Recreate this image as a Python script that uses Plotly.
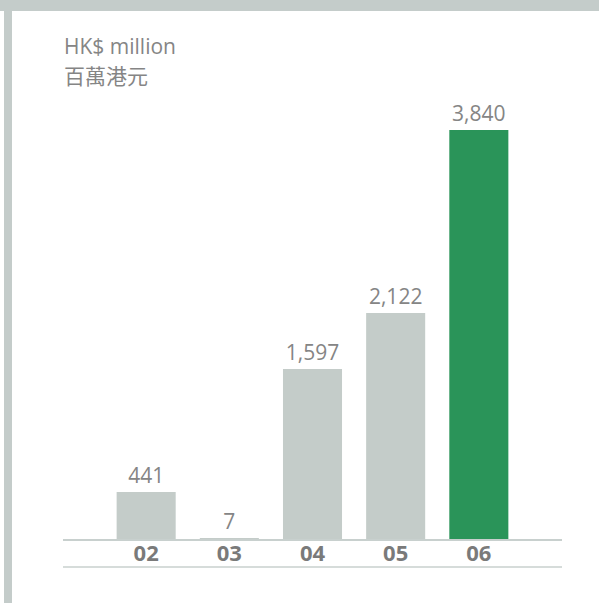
import plotly.graph_objects as go

categories = ["02", "03", "04", "05", "06"]
values = [441, 7, 1597, 2122, 3840]
labels = ["441", "7", "1,597", "2,122", "3,840"]
unit_en = "HK$ million"
unit_zh = "百萬港元"

GRAY = "#c4ccc9"
GREEN = "#2a9459"
TEXT = "#858585"
W, H = 599, 603

colors = [GRAY] * (len(values) - 1) + [GREEN]

fig = go.Figure(go.Bar(
    x=categories, y=values, marker=dict(color=colors, line=dict(width=0)),
    width=0.71, text=labels, textposition="outside", cliponaxis=False,
    textfont=dict(family="Open Sans", size=21, color=TEXT),
))

x0, x1 = 63, 562
ybase, ytop = 539, 113
fig.update_layout(
    width=W, height=H, margin=dict(l=0, r=0, t=0, b=0),
    paper_bgcolor="white", plot_bgcolor="white", showlegend=False,
    xaxis=dict(domain=[x0 / W, x1 / W], range=[-1, 5], showgrid=False,
               showline=True, linecolor="#c8d0ce", linewidth=1.5,
               tickfont=dict(family="Open Sans", size=22, color="#7a7a7a", weight="bold"),
               ticks="", zeroline=False, ticklabelstandoff=-6),
    yaxis=dict(domain=[(H - ybase) / H, (H - ytop) / H], range=[0, 4000],
               visible=False, showgrid=False, zeroline=False),
    shapes=[
        dict(type="rect", xref="paper", yref="paper", x0=0, x1=1,
             y0=(H - 11) / H, y1=1, fillcolor="#c4ccca", line=dict(width=0), layer="above"),
        dict(type="rect", xref="paper", yref="paper", x0=4 / W, x1=12 / W,
             y0=0, y1=(H - 11) / H, fillcolor="#c4ccca", line=dict(width=0)),
        dict(type="line", xref="paper", yref="paper", x0=x0 / W, x1=x1 / W,
             y0=(H - 567) / H, y1=(H - 567) / H, line=dict(color="#c8d0ce", width=1.5)),
    ],
    annotations=[
        dict(text=unit_en, xref="paper", yref="paper", x=62 / W, y=(H - 46) / H,
             xanchor="left", yanchor="middle", showarrow=False,
             font=dict(family="Open Sans", size=21, color=TEXT)),
        dict(text=unit_zh, xref="paper", yref="paper", x=62 / W, y=(H - 75) / H,
             xanchor="left", yanchor="middle", showarrow=False,
             font=dict(family="Noto Sans CJK TC", size=21, color=TEXT)),
    ],
)

fig.write_html("out.html", config={"displayModeBar": False},
               post_script="document.body.style.margin='0';")
